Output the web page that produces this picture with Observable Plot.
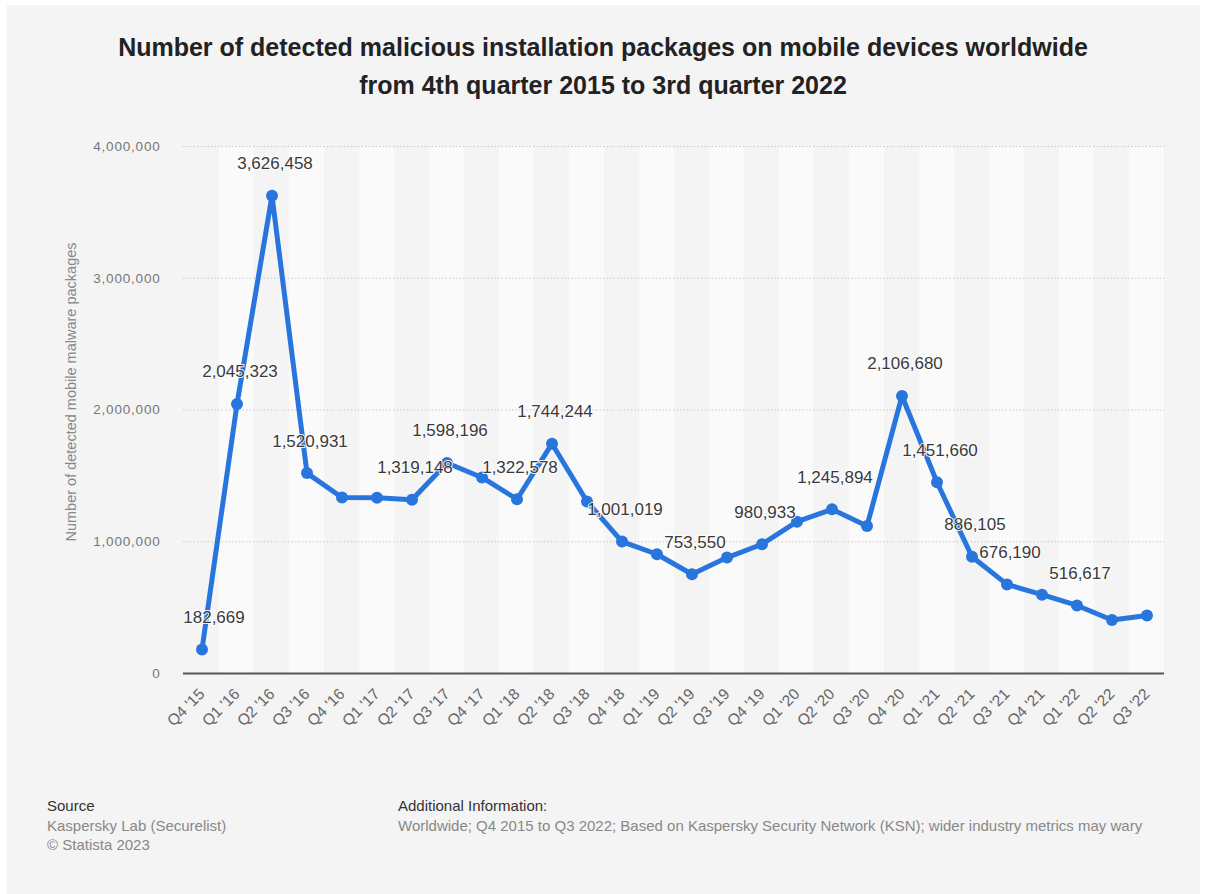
<!DOCTYPE html>
<html>
<head>
<meta charset="utf-8">
<script src="https://cdn.jsdelivr.net/npm/d3@7"></script>
<script src="https://cdn.jsdelivr.net/npm/@observablehq/plot@0.6"></script>
<style>
  html, body { margin: 0; padding: 0; background: #ffffff; width: 1206px; height: 894px; overflow: hidden; }
  body { font-family: "Liberation Sans", Arial, Helvetica, sans-serif; position: relative; }
  #panel { position: absolute; left: 7px; top: 5px; width: 1193px; height: 889px; background: #f4f4f4; }
  #title { position: absolute; left: 0; top: 28px; width: 1206px; text-align: center; font-weight: bold; font-size: 25px; line-height: 38px; color: #222; }
  #chart { position: absolute; left: 0; top: 0; }
  #ylabel { position: absolute; left: 71px; top: 392px; transform: translate(-50%, -50%) rotate(-90deg); white-space: nowrap; font-size: 14.5px; color: #888; }
  .foot { position: absolute; font-size: 15px; line-height: 19.5px; color: #888; }
  .foot b { font-weight: normal; color: #333; font-size: 15px; }
</style>
</head>
<body>
<div id="panel"></div>
<div id="title">Number of detected malicious installation packages on mobile devices worldwide<br>from 4th quarter 2015 to 3rd quarter 2022</div>
<div id="chart"></div>
<div id="ylabel">Number of detected mobile malware packages</div>
<div class="foot" style="left:47px; top:796px;"><b>Source</b><br>Kaspersky Lab (Securelist)<br>© Statista 2023</div>
<div class="foot" style="left:398px; top:796px;"><b>Additional Information:</b><br>Worldwide; Q4 2015 to Q3 2022; Based on Kaspersky Security Network (KSN); wider industry metrics may wary</div>
<script>
const quarters = ["Q4 '15","Q1 '16","Q2 '16","Q3 '16","Q4 '16","Q1 '17","Q2 '17","Q3 '17","Q4 '17","Q1 '18","Q2 '18","Q3 '18","Q4 '18","Q1 '19","Q2 '19","Q3 '19","Q4 '19","Q1 '20","Q2 '20","Q3 '20","Q4 '20","Q1 '21","Q2 '21","Q3 '21","Q4 '21","Q1 '22","Q2 '22","Q3 '22"];
const packages = [182669, 2045323, 3626458, 1520931, 1336000, 1333571, 1319148, 1598196, 1488000, 1322578, 1744244, 1305015, 1001019, 905174, 753550, 880000, 980933, 1152662, 1245894, 1120000, 2106680, 1451660, 886105, 676190, 598000, 516617, 405684, 441000];
const labeledQuarters = ["Q4 '15","Q1 '16","Q2 '16","Q3 '16","Q2 '17","Q3 '17","Q1 '18","Q2 '18","Q4 '18","Q2 '19","Q4 '19","Q2 '20","Q4 '20","Q1 '21","Q2 '21","Q3 '21","Q1 '22"];
const yTicks = [0, 1000000, 2000000, 3000000, 4000000];

const data = quarters.map((q, i) => ({q, v: packages[i], i}));
const labeled = data.filter(d => labeledQuarters.includes(d.q));
const stripes = quarters.filter((q, i) => i % 2 === 1);
const fmt = d3.format(",");

const blue = "#2876dd";
const labelStyle = {x: "q", y: "v", text: d => fmt(d.v), dy: -32, fill: "#3a3a3a", fontSize: 17, stroke: "white", strokeWidth: 2, strokeOpacity: 0.9};
const chart = Plot.plot({
  width: 1206,
  height: 780,
  marginTop: 146,
  marginBottom: 107,
  marginLeft: 183,
  marginRight: 42,
  style: {background: "transparent", fontFamily: "Liberation Sans, Arial, sans-serif", fontSize: "14px", overflow: "visible"},
  x: {type: "band", domain: quarters, padding: 0, tickSize: 0, tickRotate: -45, tickPadding: 18, label: null},
  y: {domain: [0, 4000000], ticks: yTicks, tickFormat: fmt, tickSize: 0, tickPadding: 23, label: null},
  marks: [
    Plot.cell(stripes, {x: d => d, fill: "#fafafa", inset: 0}),
    Plot.ruleY(yTicks.filter(t => t > 0), {stroke: "#c8c8c8", strokeWidth: 1, strokeDasharray: "1.5,2"}),
    Plot.ruleY([0], {stroke: "#555", strokeWidth: 2}),
    Plot.lineY(data, {x: "q", y: "v", stroke: blue, strokeWidth: 5, strokeLinejoin: "round"}),
    Plot.dot(data, {x: "q", y: "v", r: 6, fill: blue}),
    Plot.text(labeled.filter(d => d.i !== 0), {...labelStyle, dx: 3}),
    Plot.text(labeled.filter(d => d.i === 0), {...labelStyle, dx: 12})
  ]
});
document.getElementById("chart").appendChild(chart);
const svg = d3.select(chart);
svg.selectAll('g[aria-label^="x-axis"] text').style("font-size", "15.5px").style("fill", "#666");
svg.selectAll('g[aria-label^="y-axis"] text').style("font-size", "13.5px").style("fill", "#777").style("letter-spacing", "0.8px");
</script>
</body>
</html>
